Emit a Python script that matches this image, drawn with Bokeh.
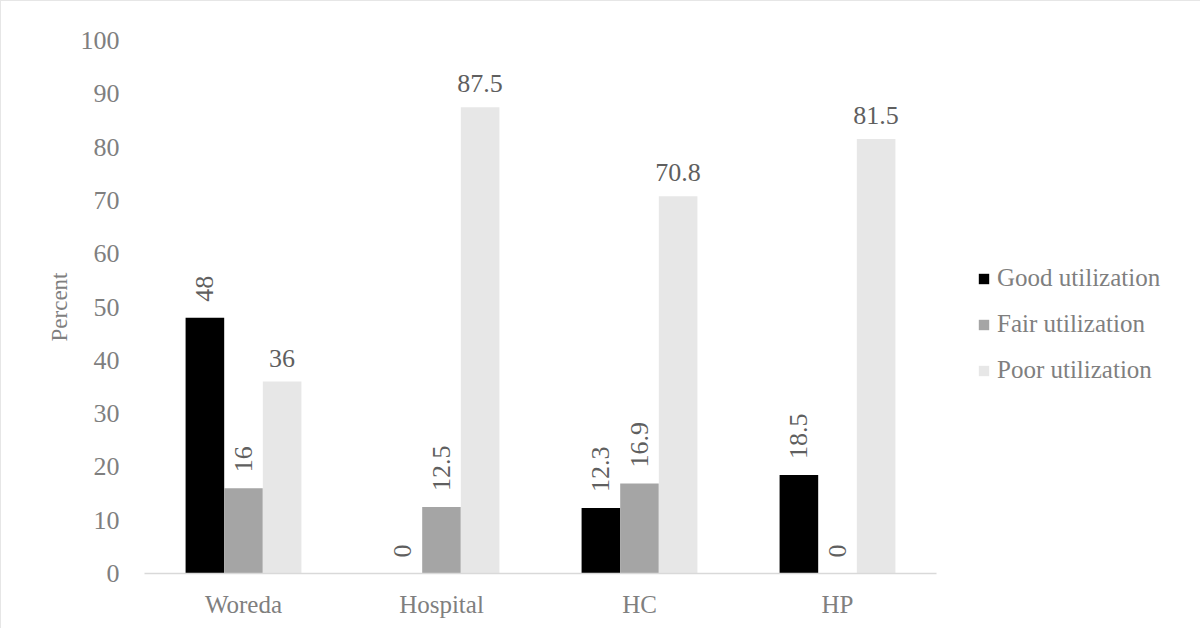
import math
from bokeh.plotting import figure
from bokeh.models import ColumnDataSource, Legend, LegendItem, FactorRange
from bokeh.transform import dodge
from bokeh.core.properties import value
from bokeh.embed import file_html
from bokeh.resources import INLINE

categories = ["Woreda", "Hospital", "HC", "HP"]
good = [48, 0, 12.3, 18.5]
fair = [16, 12.5, 16.9, 0]
poor = [36, 87.5, 70.8, 81.5]
series_names = ["Good utilization", "Fair utilization", "Poor utilization"]
colors = ["#000000", "#A5A5A5", "#E7E7E7"]
y_ticks = [0, 10, 20, 30, 40, 50, 60, 70, 80, 90, 100]

FONT = "Liberation Serif"
TXT = "#7F7F7F"
LBL = "#5F5F5F"

def fmt(v):
    return str(int(v)) if float(v).is_integer() else f"{v:.1f}"

src = ColumnDataSource(dict(
    cat=categories, good=good, fair=fair, poor=poor,
    good_t=[fmt(v) for v in good], fair_t=[fmt(v) for v in fair], poor_t=[fmt(v) for v in poor],
))

p = figure(x_range=FactorRange(*categories), y_range=(0, 100),
           frame_width=792, frame_height=533,
           min_border_left=143, min_border_right=252, min_border_top=39, min_border_bottom=55,
           output_backend="svg", toolbar_location=None)
p.styles = {"border": "1px solid #E6E6E6"}
p.outline_line_color = None
p.xgrid.grid_line_color = None
p.ygrid.grid_line_color = None

w = 0.195
offs = [-w, 0.0, w]
cols = ["good", "fair", "poor"]
renderers = []
for c, o, col in zip(cols, offs, colors):
    r = p.vbar(x=dodge("cat", o, range=p.x_range), top=c, width=w, source=src,
               fill_color=col, line_color=None)
    renderers.append(r)

# vertical labels for good and fair
for c, o in zip(cols[:2], offs[:2]):
    p.text(x=dodge("cat", o, range=p.x_range), y=c, text=c + "_t", source=src,
           angle=math.pi / 2, text_align="left", text_baseline="middle",
           y_offset=-16, text_font=value(FONT), text_font_size="26px", text_color=LBL)
# horizontal labels for poor
p.text(x=dodge("cat", offs[2], range=p.x_range), y="poor", text="poor_t", source=src,
       text_align="center", text_baseline="bottom", y_offset=-15,
       text_font=value(FONT), text_font_size="26px", text_color=LBL)

# axes
p.yaxis.ticker = y_ticks
p.yaxis.axis_line_color = None
p.yaxis.major_tick_line_color = None
p.yaxis.minor_tick_line_color = None
p.yaxis.major_label_standoff = 19
p.yaxis.major_label_text_font = FONT
p.yaxis.major_label_text_font_size = "26px"
p.yaxis.major_label_text_color = TXT
p.yaxis.axis_label = "Percent"
p.yaxis.axis_label_text_font = FONT
p.yaxis.axis_label_text_font_size = "23px"
p.yaxis.axis_label_text_font_style = "normal"
p.yaxis.axis_label_text_color = TXT
p.yaxis.axis_label_standoff = 6

p.xaxis.axis_line_color = "#D9D9D9"
p.xaxis.axis_line_width = 1.5
p.xaxis.major_tick_line_color = None
p.xaxis.minor_tick_line_color = None
p.xaxis.major_label_standoff = 11
p.xaxis.major_label_text_font = FONT
p.xaxis.major_label_text_font_size = "25px"
p.xaxis.major_label_text_color = TXT

legend = Legend(items=[LegendItem(label=n, renderers=[r]) for n, r in zip(series_names, renderers)],
                location=(41, 189), padding=0, margin=0, spacing=18,
                glyph_width=13, glyph_height=13, label_standoff=7,
                label_text_font=FONT, label_text_font_size="25px", label_text_color=TXT,
                border_line_color=None, background_fill_alpha=0)
p.add_layout(legend, "right")

open("out.html", "w").write(file_html(p, INLINE))
